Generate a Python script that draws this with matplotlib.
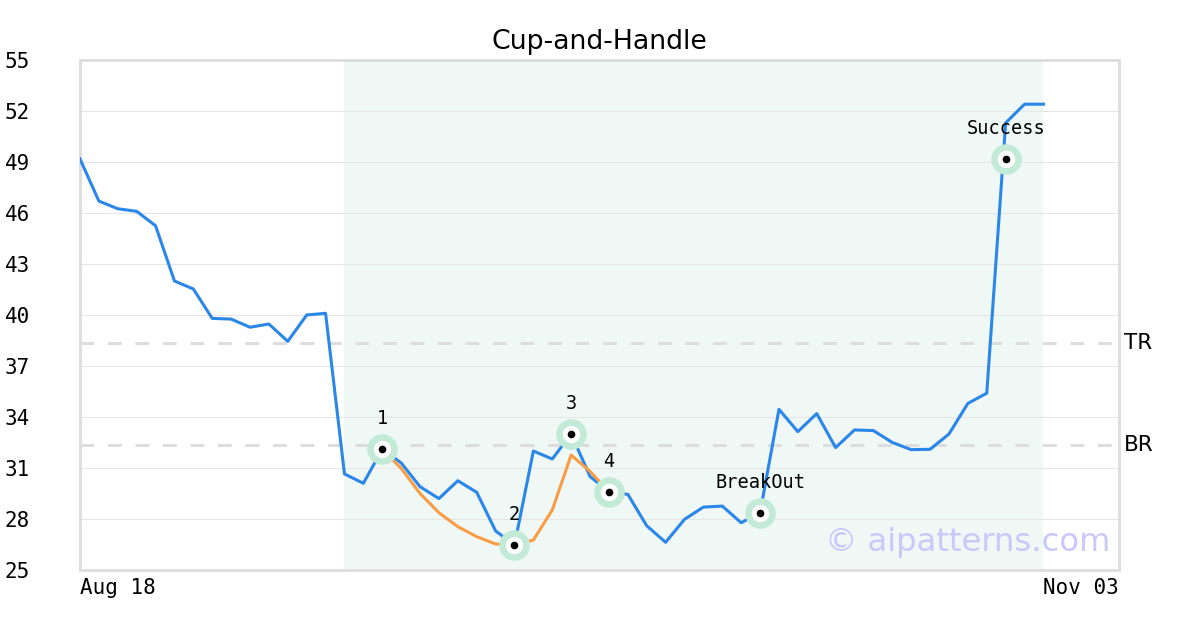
import numpy as np
import matplotlib
matplotlib.use("Agg")
import matplotlib.pyplot as plt

# price series (one value per trading day)
price = [49.18, 46.7, 46.25, 46.1, 45.25, 42.0, 41.53, 39.8, 39.76, 39.28,
         39.47, 38.45, 40.0, 40.1, 30.65, 30.1, 32.1, 31.3, 29.9, 29.2,
         30.25, 29.57, 27.3, 26.47, 32.0, 31.53, 33.0, 30.5, 29.6, 29.45,
         27.6, 26.63, 27.98, 28.7, 28.76, 27.78, 28.37, 34.45, 33.14, 34.2,
         32.2, 33.24, 33.2, 32.5, 32.08, 32.1, 33.0, 34.8, 35.4, 51.3,
         52.4, 52.4]

# fitted cup curve
cup_idx = [16, 17, 18, 19, 20, 21, 22, 23, 24, 25, 26, 27, 28]
cup_val = [32.1, 30.98, 29.5, 28.37, 27.55, 26.96, 26.53, 26.47, 26.76, 28.53,
           31.76, 30.8, 29.6]

# key points
pt_idx = [16, 23, 26, 28, 36, 49]
pt_val = [32.1, 26.47, 33.0, 29.6, 28.37, 49.16]
pt_lbl = ["1", "2", "3", "4", "BreakOut", "Success"]

top_res = 38.35
bot_res = 32.35
pattern_start, pattern_end = 14, 51
x_labels = ["Aug 18", "Nov 03"]
y_ticks = list(range(25, 56, 3))

fig = plt.figure(figsize=(12, 6.3), dpi=100)
ax = fig.add_axes([80/1200, 60/630, 1039/1200, 510/630])

x = np.arange(len(price))
ax.axvspan(pattern_start, pattern_end, color="#f0f8f5", lw=0, zorder=0)
ax.axhline(top_res, color="#dddddd", lw=2.2, dashes=(4.5, 4.5), zorder=1)
ax.axhline(bot_res, color="#dddddd", lw=2.2, dashes=(4.5, 4.5), zorder=1)

ax.plot(x, price, color="#2a86e8", lw=2.2, zorder=3)
ax.plot(cup_idx, cup_val, color="#f89c45", lw=2.2, zorder=3)

ax.plot(pt_idx, pt_val, "o", ms=22, color="#c2ead6", mec="none", zorder=4)
ax.plot(pt_idx, pt_val, "o", ms=12.5, color="white", mec="none", zorder=5)
ax.plot(pt_idx, pt_val, "o", ms=5.5, color="black", mec="none", zorder=6)
for i, v, s in zip(pt_idx, pt_val, pt_lbl):
    ax.annotate(s, (i, v), xytext=(0, 22), textcoords="offset points",
                ha="center", va="center", fontsize=13.4,
                family="DejaVu Sans Mono", zorder=7)

ax.text(55.25, top_res, "TR", fontsize=15.5, va="center", ha="left", clip_on=False)
ax.text(55.25, bot_res, "BR", fontsize=15.5, va="center", ha="left", clip_on=False)

ax.text(54.55, 26.6, "\u00a9 aipatterns.com", fontsize=23.2, color="#c8c8fa",
        ha="right", va="center", zorder=2)

ax.set_xlim(0, 55)
ax.set_ylim(25, 55)
ax.set_yticks(y_ticks)
ax.set_yticklabels([str(t) for t in y_ticks], family="DejaVu Sans Mono",
                   fontsize=15, ha="left")
ax.tick_params(axis="y", length=0, pad=54)
ax.set_xticks([0, 55])
ax.set_xticklabels(x_labels, family="DejaVu Sans Mono", fontsize=15)
xt = ax.get_xticklabels()
xt[0].set_ha("left")
xt[1].set_ha("right")
ax.tick_params(axis="x", length=0, pad=6)
ax.grid(axis="y", color="#e6e6e6", lw=0.8, zorder=0)
ax.set_axisbelow(True)
for sp in ax.spines.values():
    sp.set_color("#dddddd")
    sp.set_linewidth(2)

ax.set_title("Cup-and-Handle", fontsize=19.3, pad=8)

fig.savefig("out.png", dpi=100)
